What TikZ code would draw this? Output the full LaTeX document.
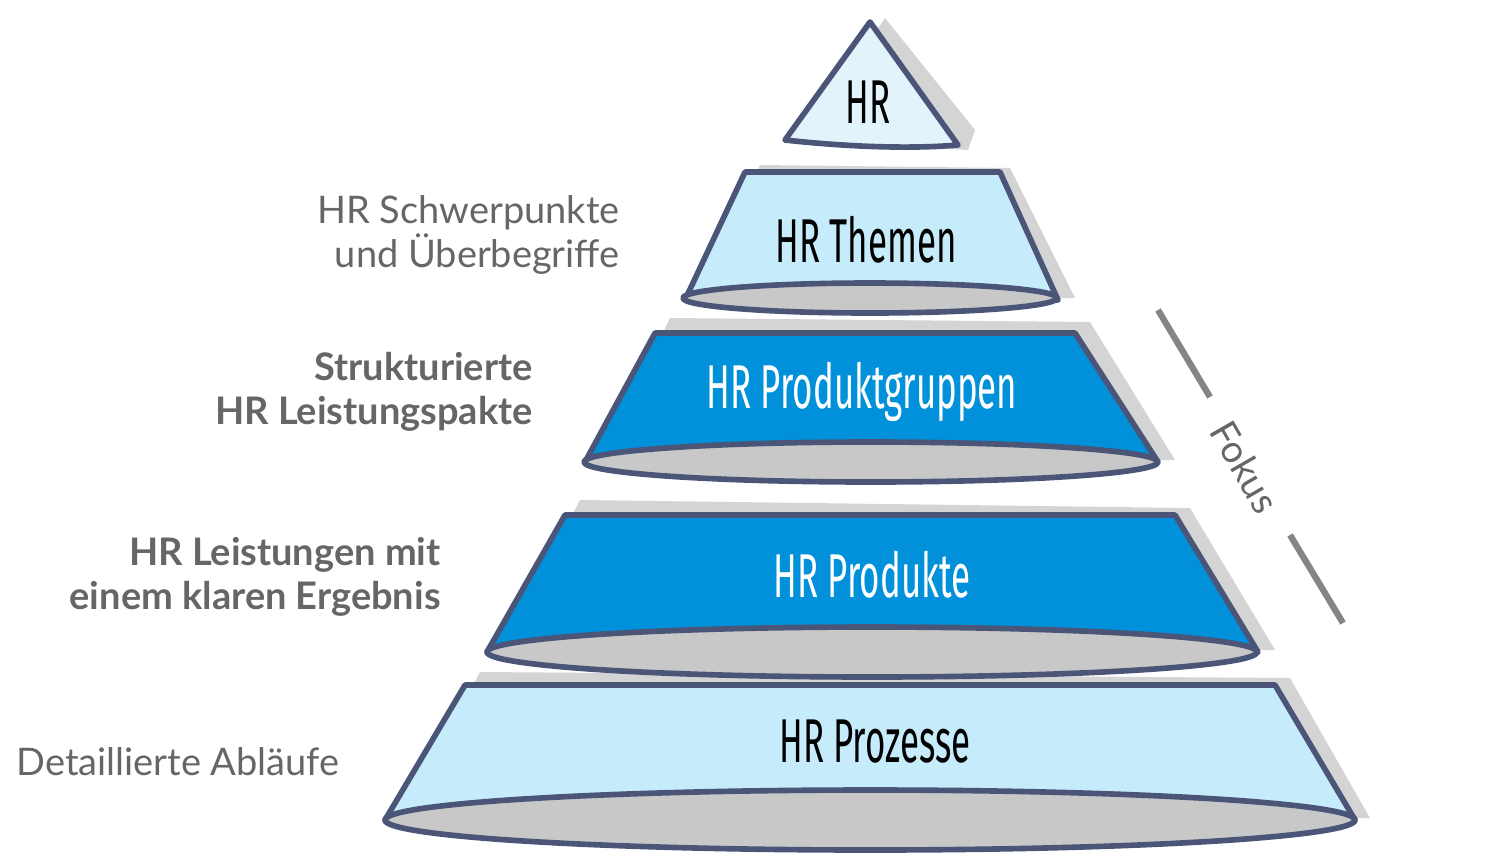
\documentclass[tikz,border=0pt]{standalone}
\usepackage{fontspec}
\usepackage{graphicx}
\setmainfont{Lato}
\newfontfamily\handfont{Fira Sans}
\usetikzlibrary{positioning}
\definecolor{edgeblue}{HTML}{4A5578}
\definecolor{paleblue}{HTML}{E3F3FB}
\definecolor{lightblue}{HTML}{C6ECFB}
\definecolor{deepblue}{HTML}{0091DA}
\definecolor{shadowgray}{HTML}{D4D4D4}
\definecolor{innergray}{HTML}{C8C8C8}
\definecolor{labelgray}{HTML}{666666}
\newcommand{\handtext}[1]{\scalebox{0.62}[1.1]{#1}}
\tikzset{
	layer/.style={draw=edgeblue, line width=1.6pt, line join=round},
	shade/.style={fill=shadowgray},
	hand/.style={font=\handfont\fontsize{16}{16}\selectfont},
	side/.style={font=\fontsize{10.8}{12.6}\selectfont, text=labelgray, align=right, anchor=east},
	sidebold/.style={side, font=\bfseries\fontsize{10.8}{12.6}\selectfont}
}
\begin{document}
\begin{tikzpicture}[x=0.01cm, y=-0.01cm]
	\useasboundingbox (0,0) rectangle (1500,857);

	% shadows
	\fill[shade] (885,18) -- (975,130) -- (968,150) -- (800,140) -- cycle;
	\fill[shade] (760,165) -- (1010,168) -- (1075,298) -- (700,300) -- cycle;
	\fill[shade] (670,318) -- (1090,322) -- (1175,460) -- (600,465) -- cycle;
	\fill[shade] (580,500) -- (1190,508) -- (1275,650) -- (500,655) -- cycle;
	\fill[shade] (480,672) -- (1290,678) -- (1370,818) -- (400,825) -- cycle;

	% top
	\draw[layer, fill=paleblue] (870,22) -- (958,145) .. controls (900,150) and (830,145) .. (785,140) -- cycle;
	\node[hand, text=black] (hr) at (868,102) {\handtext{HR}};

	% themen
	\draw[layer, fill=lightblue] (745,172) -- (1000,172) -- (1058,300) -- (685,300) -- cycle;
	\draw[layer, fill=innergray] (870,298) ellipse [x radius=187, y radius=15];
	\node[hand, text=black] (themen) at (866,240) {\handtext{HR Themen}};

	% produktgruppen
	\draw[layer, fill=deepblue] (655,333) -- (1075,333) -- (1158,462) -- (585,462) -- cycle;
	\draw[layer, fill=innergray] (871,462) ellipse [x radius=287, y radius=20];
	\node[hand, text=white] (gruppen) at (862,392) {\handtext{HR Produktgruppen}};

	% produkte
	\draw[layer, fill=deepblue] (565,515) -- (1175,515) -- (1258,652) -- (487,652) -- cycle;
	\draw[layer, fill=innergray] (872,652) ellipse [x radius=385, y radius=25];
	\node[hand, text=white] (produkte) at (872,575) {\handtext{HR Produkte}};

	% prozesse
	\draw[layer, fill=lightblue] (465,685) -- (1275,685) -- (1355,820) -- (385,820) -- cycle;
	\draw[layer, fill=innergray] (870,820) ellipse [x radius=485, y radius=30];
	\node[hand, text=black] (prozesse) at (875,742) {\handtext{HR Prozesse}};

	% side labels
	\node[side] (schwer) at (632,235) {HR Schwerpunkte\\und Überbegriffe};
	\node[sidebold] (leistpak) at (545,392) {Strukturierte\\HR Leistungspakte};
	\node[sidebold] (leist) at (453,577) {HR Leistungen mit\\einem klaren Ergebnis};
	\node[side] (ablauf) at (352,762) {Detaillierte Abläufe};

	% fokus
	\coordinate (f1) at (1158,310);
	\coordinate (f2) at (1210,397);
	\coordinate (f3) at (1290,535);
	\coordinate (f4) at (1343,623);
	\draw[labelgray!80, line width=1.8pt] (f1) -- (f2);
	\draw[labelgray!80, line width=1.8pt] (f3) -- (f4);
	\node[font=\fontsize{10.8}{12}\selectfont, text=labelgray, rotate=-60, inner sep=1pt] (fokus) at (1245,467) {Fokus};
\end{tikzpicture}
\end{document}
